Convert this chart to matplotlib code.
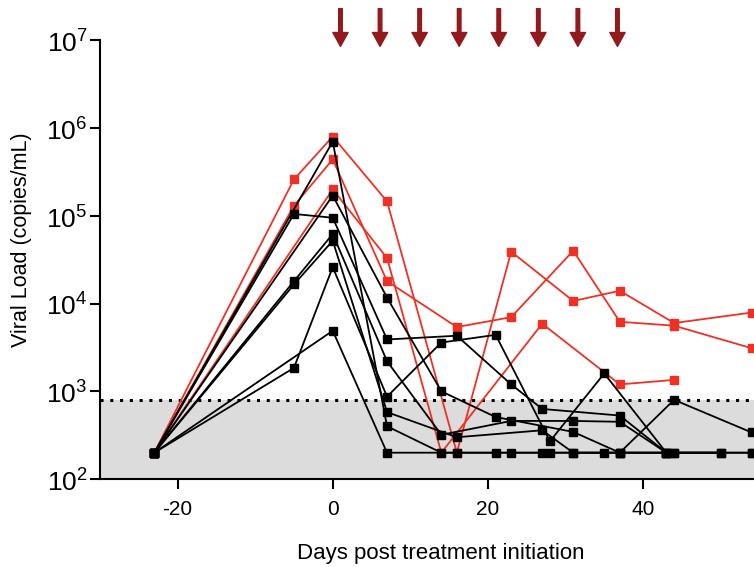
import matplotlib
matplotlib.use("Agg")
import matplotlib.pyplot as plt
import numpy as np

plt.rcParams['font.family'] = ['Liberation Sans', 'DejaVu Sans']
plt.rcParams['mathtext.fontset'] = 'custom'
plt.rcParams['mathtext.rm'] = 'Liberation Sans'
plt.rcParams['axes.unicode_minus'] = False

# dosing days (arrows on top)
dose_days = [1, 6.1, 11.2, 16.3, 21.4, 26.5, 31.6, 36.7]

# red animals
red_series = [
    ([-23, -5, 0, 7, 16, 23, 31, 37, 44, 54],
     [200, 2.6e5, 8e5, 1.46e5, 200, 3.9e4, 1.07e4, 1.4e4, 6e3, 7.9e3]),
    ([-23, 0, 7, 14, 27, 37, 44],
     [200, 2e5, 3.3e4, 200, 5.9e3, 1.2e3, 1.35e3]),
    ([-23, -5, 0, 7, 16, 23, 31, 37, 44, 54],
     [200, 1.3e5, 4.4e5, 1.8e4, 5.4e3, 7e3, 4e4, 6.2e3, 5.6e3, 3.1e3]),
]

# black animals
black_series = [
    ([-23, -5, 0, 7, 16, 23, 27, 37, 43],
     [200, 1.05e5, 9.5e4, 3.9e3, 4.3e3, 1.2e3, 630, 530, 200]),
    ([-23, 0, 7, 14, 21, 31, 37, 44, 54],
     [200, 1.7e5, 1.17e4, 1e3, 510, 345, 200, 800, 340]),
    ([-23, -5, 0, 7, 14, 21, 28, 35, 43, 50],
     [200, 1.85e3, 2.6e4, 870, 3.6e3, 4.4e3, 270, 1.6e3, 200, 200]),
    ([-23, -5, 0, 7, 14, 23, 31, 37, 43],
     [200, 1.8e4, 6.2e4, 2.2e3, 320, 460, 460, 450, 200]),
    ([-23, -5, 0, 7, 16, 27, 31, 37, 44, 54],
     [200, 1.65e4, 5.2e4, 580, 300, 360, 200, 200, 200, 200]),
    ([-23, 0, 7, 14, 21, 28, 35, 43, 50],
     [200, 7e5, 400, 200, 200, 200, 200, 200, 200]),
    ([-23, 0, 7, 16, 23, 27, 31, 37, 44, 54],
     [200, 4.9e3, 200, 200, 200, 200, 200, 200, 200, 200]),
]

lod = 800
red = '#ee3124'
arrow_col = '#921a1d'

fig = plt.figure(figsize=(7.54, 5.67), dpi=100)
ax = fig.add_axes([0.1326, 0.155, 0.8674, 0.774])

ax.axhspan(100, lod, color='#dcdcdc', zorder=0, lw=0)
ax.axhline(lod, color='black', ls=(0, (1, 2.2)), lw=2.2, zorder=1)

for x, y in black_series:
    ax.plot(x, y, '-s', color='black', lw=1.3, ms=5.8, zorder=3)
for x, y in red_series:
    ax.plot(x, y, '-s', color=red, mfc=red, mec=red, lw=1.3, ms=5.8, zorder=2)

ax.set_yscale('log')
ax.set_ylim(100, 1e7)
ax.set_xlim(-30, 54.3)
ax.set_yticks([1e2, 1e3, 1e4, 1e5, 1e6, 1e7])
ax.set_yticklabels(['$10^{%d}$' % i for i in range(2, 8)])
ax.yaxis.set_minor_locator(matplotlib.ticker.NullLocator())
ax.set_xticks([-20, 0, 20, 40])

for s in ['top', 'right']:
    ax.spines[s].set_visible(False)
ax.spines['left'].set_linewidth(1.5)
ax.spines['bottom'].set_linewidth(1.5)
ax.tick_params(axis='both', direction='out', length=7, width=1.5)
ax.tick_params(axis='y', labelsize=19, pad=2)
ax.tick_params(axis='x', labelsize=15, pad=8)

ax.set_xlabel('Days post treatment initiation', fontsize=16, labelpad=17)
ax.xaxis.label.set_x(0.521)
ax.set_ylabel('Viral Load (copies/mL)', fontsize=15.5, labelpad=10)
ax.yaxis.label.set_y(0.545)

for d in dose_days:
    ax.annotate('', xy=(d, 0.986), xytext=(d, 1.072),
                xycoords=('data', 'axes fraction'),
                textcoords=('data', 'axes fraction'),
                arrowprops=dict(facecolor=arrow_col, edgecolor=arrow_col,
                                width=2.6, headwidth=11, headlength=10),
                annotation_clip=False)

fig.savefig('out.png', dpi=100)
